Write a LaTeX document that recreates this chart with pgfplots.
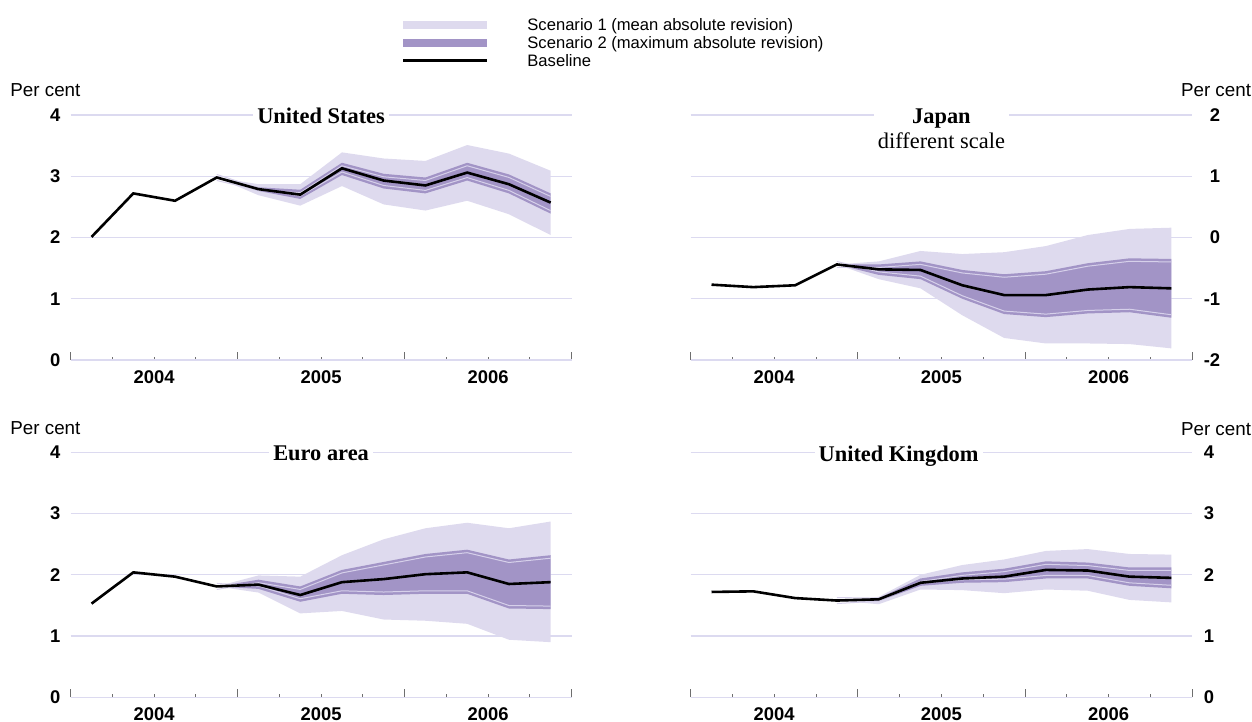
\documentclass[border=0pt]{standalone}
\usepackage{fontspec}
\setmainfont{Liberation Sans}
\newfontfamily\tnr{Liberation Serif}
\usepackage{pgfplots}
\pgfplotsset{compat=1.18}
\usepgfplotslibrary{fillbetween}
\usepackage{pgfplotstable}

\definecolor{lightband}{RGB}{222,218,238}
\definecolor{darkband}{RGB}{162,148,198}
\definecolor{gridc}{RGB}{220,218,240}
\definecolor{tickc}{RGB}{110,110,110}
\definecolor{innerc}{RGB}{214,208,234}

\pgfplotstableread{
x base s1lo s1hi s2lo s2hi
0.5 2.01 2.01 2.01 2.01 2.01
1.5 2.72 2.72 2.72 2.72 2.72
2.5 2.60 2.60 2.60 2.60 2.60
3.5 2.98 2.98 2.98 2.98 2.98
4.5 2.79 2.69 2.87 2.76 2.82
5.5 2.70 2.52 2.87 2.63 2.78
6.5 3.13 2.84 3.39 3.02 3.22
7.5 2.93 2.54 3.29 2.80 3.04
8.5 2.85 2.44 3.25 2.72 2.98
9.5 3.06 2.60 3.51 2.93 3.22
10.5 2.87 2.38 3.37 2.72 3.03
11.5 2.57 2.04 3.09 2.39 2.72
}\us

\pgfplotstableread{
x base s1lo s1hi s2lo s2hi
0.5 -0.77 -0.77 -0.77 -0.77 -0.77
1.5 -0.81 -0.81 -0.81 -0.81 -0.81
2.5 -0.78 -0.78 -0.78 -0.78 -0.78
3.5 -0.44 -0.44 -0.44 -0.44 -0.44
4.5 -0.52 -0.68 -0.39 -0.61 -0.44
5.5 -0.53 -0.83 -0.22 -0.68 -0.39
6.5 -0.78 -1.27 -0.27 -1.00 -0.53
7.5 -0.94 -1.64 -0.24 -1.25 -0.60
8.5 -0.94 -1.73 -0.14 -1.30 -0.55
9.5 -0.85 -1.73 0.04 -1.24 -0.42
10.5 -0.81 -1.74 0.14 -1.22 -0.34
11.5 -0.83 -1.81 0.16 -1.31 -0.35
}\jp

\pgfplotstableread{
x base s1lo s1hi s2lo s2hi
0.5 1.53 1.53 1.53 1.53 1.53
1.5 2.04 2.04 2.04 2.04 2.04
2.5 1.97 1.97 1.97 1.97 1.97
3.5 1.81 1.81 1.81 1.81 1.81
4.5 1.84 1.71 1.99 1.77 1.92
5.5 1.67 1.37 1.97 1.56 1.81
6.5 1.88 1.41 2.32 1.69 2.08
7.5 1.93 1.27 2.58 1.67 2.21
8.5 2.01 1.25 2.76 1.69 2.34
9.5 2.04 1.20 2.85 1.69 2.41
10.5 1.85 0.94 2.76 1.45 2.25
11.5 1.88 0.90 2.87 1.44 2.32
}\ea

\pgfplotstableread{
x base s1lo s1hi s2lo s2hi
0.5 1.72 1.72 1.72 1.72 1.72
1.5 1.73 1.73 1.73 1.73 1.73
2.5 1.62 1.62 1.62 1.62 1.62
3.5 1.58 1.58 1.58 1.58 1.58
4.5 1.60 1.52 1.64 1.57 1.62
5.5 1.87 1.76 2.00 1.82 1.94
6.5 1.94 1.75 2.16 1.87 2.04
7.5 1.97 1.70 2.25 1.88 2.10
8.5 2.08 1.76 2.39 1.94 2.22
9.5 2.07 1.74 2.42 1.94 2.20
10.5 1.97 1.59 2.34 1.82 2.12
11.5 1.95 1.55 2.33 1.78 2.12
}\uk

\newcommand{\drawbands}[1]{%
  \addplot[name path=Alo, draw=none, forget plot] table[x=x,y=s1lo]{#1};
  \addplot[name path=Ahi, draw=none, forget plot] table[x=x,y=s1hi]{#1};
  \addplot[fill=lightband, draw=none, forget plot] fill between[of=Alo and Ahi];
  \addplot[name path=Blo, draw=none, forget plot] table[x=x,y=s2lo]{#1};
  \addplot[name path=Bhi, draw=none, forget plot] table[x=x,y=s2hi]{#1};
  \addplot[fill=darkband, draw=none, forget plot] fill between[of=Blo and Bhi];
  \addplot[innerc, line width=0.5pt, forget plot, restrict x to domain=3.4:12, yshift=-1.5pt] table[x=x,y=s2hi]{#1};
  \addplot[innerc, line width=0.5pt, forget plot, restrict x to domain=3.4:12, yshift=1.5pt] table[x=x,y=s2lo]{#1};
  \addplot[black, line width=1.3pt, forget plot] table[x=x,y=base]{#1};
}

\pgfplotsset{
  panel/.style={
    scale only axis, width=250.4pt, height=122.5pt,
    xmin=0, xmax=12,
    axis x line*=bottom,
    axis line style={-},
    x axis line style={draw=gridc, line width=0.7pt},
    y axis line style={draw=none},
    ymajorgrids, grid style={gridc, line width=0.6pt},
    xtick={2,6,10}, xticklabels={2004,2005,2006},
    minor xtick={1,3,5,7,9,11},
    extra x ticks={0,4,8,12}, extra x tick labels={},
    extra x tick style={major tick length=4pt},
    major tick length=1.7pt, minor tick length=1.7pt, tick align=inside,
    xtick style={draw=tickc, line width=0.5pt},
    ytick style={draw=none},
    tick label style={font=\fontsize{9.2}{11}\selectfont\bfseries, inner sep=0pt},
    xticklabel style={anchor=north, yshift=-5pt},
    title style={font=\fontsize{11.2}{12.5}\selectfont\tnr\bfseries, at={(0.5,1)}, anchor=north, yshift=-2.5pt, inner xsep=2pt, inner ysep=0pt, fill=white, align=center},
  },
  leftpanel/.style={panel, axis y line*=left, yticklabel style={anchor=east, xshift=-5pt}},
  rightpanel/.style={panel, axis y line*=right, yticklabel pos=right, yticklabel style={anchor=west, xshift=5.6pt}},
}

\begin{document}
\begin{tikzpicture}

% United States
\begin{axis}[leftpanel, at={(35.35pt,-180pt)}, anchor=south west,
  ymin=0, ymax=4, ytick={0,1,2,3,4}, yticklabels={0,1,2,3,4},
  title={United States},
  legend style={at={(0.6556,1.3964)}, anchor=north west, draw=none, fill=none,
    font=\fontsize{8.3}{9.25}\selectfont, row sep=0.8pt, inner sep=0pt,
    nodes={inner sep=0pt, text height=6.2pt, text depth=1.9pt}},
  legend cell align=left,
  legend image code/.code={\draw[#1] (0pt,0.8pt) -- (42pt,0.8pt); \path[draw=none] (0pt,0pt) -- (62pt,0pt);},
]
\drawbands{\us}
\addlegendimage{draw=lightband, line width=4pt}
\addlegendentry{Scenario 1 (mean absolute revision)}
\addlegendimage{draw=darkband, line width=4pt}
\addlegendentry{Scenario 2 (maximum absolute revision)}
\addlegendimage{draw=black, line width=1.3pt}
\addlegendentry{Baseline}
\end{axis}

% Japan
\begin{axis}[rightpanel, at={(345.3pt,-180pt)}, anchor=south west, width=250.8pt,
  ymin=-2, ymax=2, ytick={-2,-1,0,1,2}, yticklabels={-2,-1,\phantom{-}0,\phantom{-}1,\phantom{-}2},
  title={Japan\\\mdseries different scale},
]
\drawbands{\jp}
\end{axis}

% Euro area
\begin{axis}[leftpanel, at={(35.35pt,-348.65pt)}, anchor=south west,
  ymin=0, ymax=4, ytick={0,1,2,3,4}, yticklabels={0,1,2,3,4},
  title={Euro area},
]
\drawbands{\ea}
\end{axis}

% United Kingdom
\begin{axis}[rightpanel, at={(345.3pt,-348.65pt)}, anchor=south west, width=250.8pt,
  ymin=0, ymax=4, ytick={0,1,2,3,4}, yticklabels={0,1,2,3,4},
  title={United Kingdom}, title style={at={(0.4147,1)}},
]
\drawbands{\uk}
\end{axis}

\node[anchor=base west, font=\fontsize{9.4}{11}\selectfont, inner sep=0pt] at (5pt,-48.25pt) {Per cent};
\node[anchor=base west, font=\fontsize{9.4}{11}\selectfont, inner sep=0pt] at (590.3pt,-48.25pt) {Per cent};
\node[anchor=base west, font=\fontsize{9.4}{11}\selectfont, inner sep=0pt] at (5pt,-217pt) {Per cent};
\node[anchor=base west, font=\fontsize{9.4}{11}\selectfont, inner sep=0pt] at (590.3pt,-217.5pt) {Per cent};

\pgfresetboundingbox
\useasboundingbox (0,0) rectangle (626pt,-361pt);
\end{tikzpicture}
\end{document}
